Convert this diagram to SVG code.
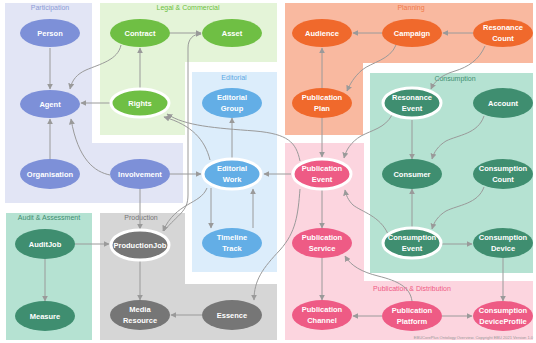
<svg xmlns="http://www.w3.org/2000/svg" width="536" height="343" viewBox="0 0 536 343">
<defs>
<style>
.n text{font-family:"Liberation Sans",Arial,sans-serif;font-weight:bold;font-size:7.5px;fill:#fff;text-anchor:middle}
.lbl{font-family:"Liberation Sans",Arial,sans-serif;font-size:7px;text-anchor:middle}
.hl{stroke:#fff;stroke-width:3}
.part{fill:#7d90d8}.legal{fill:#6fbf44}.edit{fill:#63aee6}.plan{fill:#f0692c}.cons{fill:#3f8e70}.pub{fill:#ee5b85}.prod{fill:#767676}
#connectors path{fill:none;stroke:#9a9a9a;stroke-width:1;marker-end:url(#ah)}
</style>
<marker id="ah" viewBox="0 0 10 10" refX="9" refY="5" markerWidth="6" markerHeight="6" markerUnits="userSpaceOnUse" orient="auto">
<path d="M0,0 L10,5 L0,10 z" fill="#9a9a9a"/>
</marker>
</defs>
<rect width="536" height="343" fill="#fff"/>
<g id="regions">
<path d="M5,3 H92 V143 H183 V203 H5 Z" fill="#e2e5f5"/>
<path d="M100,3 H277 V62 H185 V135 H100 Z" fill="#e4f4d8"/>
<rect x="192" y="72" width="85" height="200" fill="#dcedfb"/>
<path d="M285,3 H533 V63 H363 V135 H285 Z" fill="#f9b9a0"/>
<path d="M285,143 H364 V281 H533 V340 H285 Z" fill="#fcd5df"/>
<rect x="370" y="73" width="163" height="200" fill="#b5e2d2"/>
<path d="M100,213 H185 V284 H277 V340 H100 Z" fill="#d6d6d6"/>
<rect x="6" y="213" width="86" height="127" fill="#b5e2d2"/>
<text class="lbl" x="50" y="10" fill="#8c9bd6">Participation</text>
<text class="lbl" x="188" y="10" fill="#6cbf3e">Legal &amp; Commercial</text>
<text class="lbl" x="234" y="80" fill="#5da8e3">Editorial</text>
<text class="lbl" x="411" y="10" fill="#f07a4a">Planning</text>
<text class="lbl" x="455" y="81" fill="#3f8e70">Consumption</text>
<text class="lbl" x="412" y="291" fill="#ef5a85">Publication &amp; Distribution</text>
<text class="lbl" x="141" y="220" fill="#777">Production</text>
<text class="lbl" x="49" y="220" fill="#3f8e70">Audit &amp; Assessment</text>
<text x="533" y="339" font-family="Liberation Sans,Arial,sans-serif" font-size="4" fill="#999" text-anchor="end">EBUCorePlus Ontology Overview. Copyright EBU 2021 Version 1.0</text>
</g>
<g id="connectors">
<path d="M50,48 V89"/>
<path d="M121,45 C118,60 100,64 86,70 C77,74 72,80 70,89"/>
<path d="M110,103 H81"/>
<path d="M140,88 V48"/>
<path d="M170,33 H201"/>
<path d="M164,231 C178,214 188,212 188,195 V48 C188,39 193,34 201,34"/>
<path d="M210,160 C205,140 192,125 164,117"/>
<path d="M300,161 C296,142 288,134 255,131 C215,128 185,126 167,114"/>
<path d="M50,160 V119"/>
<path d="M110,175 C95,172 78,160 71,119"/>
<path d="M170,174 H201"/>
<path d="M140,189 V229"/>
<path d="M232,158 V118"/>
<path d="M291,174 H264"/>
<path d="M211,188 V228"/>
<path d="M253,228 V189"/>
<path d="M207,188 C200,205 176,202 163,231"/>
<path d="M300,189 C298,215 296,232 280,250 C263,268 254,280 254,300"/>
<path d="M202,315 H171"/>
<path d="M140,260 V300"/>
<path d="M75,244 H109"/>
<path d="M45,258 V301"/>
<path d="M322,88 V48"/>
<path d="M382,33 H353"/>
<path d="M473,33 H443"/>
<path d="M396,45 C390,60 372,62 362,70 C354,77 350,84 347,91"/>
<path d="M322,118 V157"/>
<path d="M485,46 C479,60 468,67 455,71 C441,75 434,82 431,89"/>
<path d="M392,115 C385,128 372,130 361,136 C351,142 346,150 344,158"/>
<path d="M412,120 V159"/>
<path d="M484,116 C478,134 458,135 446,141 C438,146 434,152 432,159"/>
<path d="M412,228 V189"/>
<path d="M484,187 C478,204 458,205 446,211 C438,216 434,222 432,229"/>
<path d="M388,234 C380,216 362,212 353,205 C348,200 346,195 345,190"/>
<path d="M442,244 H472"/>
<path d="M503,258 V301"/>
<path d="M322,190 V228"/>
<path d="M322,258 V300"/>
<path d="M382,316 H353"/>
<path d="M442,316 H472"/>
<path d="M412,301 C410,287 398,281 378,276 C362,272 351,266 345,256"/>
</g>
<g id="person" class="n"><ellipse class="part" cx="50" cy="33" rx="30" ry="14"/><text x="50" y="36">Person</text></g>
<g id="agent" class="n"><ellipse class="part" cx="50" cy="104" rx="30" ry="14"/><text x="50" y="107">Agent</text></g>
<g id="organisation" class="n"><ellipse class="part" cx="50" cy="174" rx="30" ry="15"/><text x="50" y="177">Organisation</text></g>
<g id="involvement" class="n"><ellipse class="part" cx="140" cy="174" rx="30" ry="15"/><text x="140" y="177">Involvement</text></g>
<g id="contract" class="n"><ellipse class="legal" cx="140" cy="33" rx="30" ry="14"/><text x="140" y="36">Contract</text></g>
<g id="asset" class="n"><ellipse class="legal" cx="232" cy="33" rx="30" ry="14"/><text x="232" y="36">Asset</text></g>
<g id="rights" class="n"><ellipse class="legal hl" cx="140" cy="103" rx="29" ry="14"/><text x="140" y="106">Rights</text></g>
<g id="editorial-group" class="n"><ellipse class="edit" cx="232" cy="103" rx="30" ry="15"/><text x="232" y="100">Editorial</text><text x="232" y="111">Group</text></g>
<g id="editorial-work" class="n"><ellipse class="edit hl" cx="232" cy="174" rx="29" ry="15"/><text x="232" y="171">Editorial</text><text x="232" y="182">Work</text></g>
<g id="timeline-track" class="n"><ellipse class="edit" cx="232" cy="243" rx="30" ry="15"/><text x="232" y="240">Timeline</text><text x="232" y="251">Track</text></g>
<g id="audience" class="n"><ellipse class="plan" cx="322" cy="33" rx="30" ry="14"/><text x="322" y="36">Audience</text></g>
<g id="campaign" class="n"><ellipse class="plan" cx="412" cy="33" rx="30" ry="14"/><text x="412" y="36">Campaign</text></g>
<g id="resonance-count" class="n"><ellipse class="plan" cx="503" cy="33" rx="30" ry="14"/><text x="503" y="30">Resonance</text><text x="503" y="41">Count</text></g>
<g id="publication-plan" class="n"><ellipse class="plan" cx="322" cy="103" rx="30" ry="15"/><text x="322" y="100">Publication</text><text x="322" y="111">Plan</text></g>
<g id="resonance-event" class="n"><ellipse class="cons hl" cx="412" cy="103" rx="29" ry="15"/><text x="412" y="100">Resonance</text><text x="412" y="111">Event</text></g>
<g id="account" class="n"><ellipse class="cons" cx="503" cy="103" rx="30" ry="15"/><text x="503" y="106">Account</text></g>
<g id="consumer" class="n"><ellipse class="cons" cx="412" cy="174" rx="30" ry="15"/><text x="412" y="177">Consumer</text></g>
<g id="consumption-count" class="n"><ellipse class="cons" cx="503" cy="174" rx="30" ry="15"/><text x="503" y="171">Consumption</text><text x="503" y="182">Count</text></g>
<g id="consumption-event" class="n"><ellipse class="cons hl" cx="412" cy="243" rx="29" ry="15"/><text x="412" y="240">Consumption</text><text x="412" y="251">Event</text></g>
<g id="consumption-device" class="n"><ellipse class="cons" cx="503" cy="243" rx="30" ry="15"/><text x="503" y="240">Consumption</text><text x="503" y="251">Device</text></g>
<g id="publication-event" class="n"><ellipse class="pub hl" cx="322" cy="174" rx="29" ry="15"/><text x="322" y="171">Publication</text><text x="322" y="182">Event</text></g>
<g id="publication-service" class="n"><ellipse class="pub" cx="322" cy="243" rx="30" ry="15"/><text x="322" y="240">Publication</text><text x="322" y="251">Service</text></g>
<g id="publication-channel" class="n"><ellipse class="pub" cx="322" cy="315" rx="30" ry="15"/><text x="322" y="312">Publication</text><text x="322" y="323">Channel</text></g>
<g id="publication-platform" class="n"><ellipse class="pub" cx="412" cy="316" rx="30" ry="15"/><text x="412" y="313">Publication</text><text x="412" y="324">Platform</text></g>
<g id="consumption-deviceprofile" class="n"><ellipse class="pub" cx="503" cy="316" rx="30" ry="15"/><text x="503" y="313">Consumption</text><text x="503" y="324">DeviceProfile</text></g>
<g id="auditjob" class="n"><ellipse class="cons" cx="45" cy="244" rx="30" ry="15"/><text x="45" y="247">AuditJob</text></g>
<g id="measure" class="n"><ellipse class="cons" cx="45" cy="316" rx="30" ry="15"/><text x="45" y="319">Measure</text></g>
<g id="productionjob" class="n"><ellipse class="prod hl" cx="140" cy="245" rx="29" ry="15"/><text x="140" y="248">ProductionJob</text></g>
<g id="media-resource" class="n"><ellipse class="prod" cx="140" cy="315" rx="30" ry="15"/><text x="140" y="312">Media</text><text x="140" y="323">Resource</text></g>
<g id="essence" class="n"><ellipse class="prod" cx="232" cy="315" rx="30" ry="15"/><text x="232" y="318">Essence</text></g>
</svg>
